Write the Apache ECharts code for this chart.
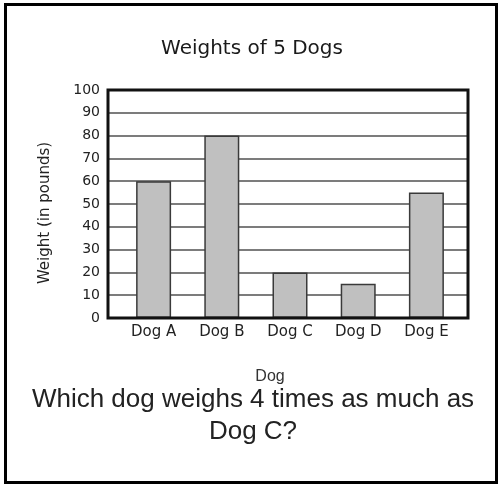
<!DOCTYPE html>
<html>
<head>
<meta charset="utf-8">
<script src="https://cdn.jsdelivr.net/npm/echarts@6/dist/echarts.min.js"></script>
<style>
  html, body { margin: 0; padding: 0; background: #fff; }
  #chart { width: 500px; height: 485px; }
</style>
</head>
<body>
<div id="chart"></div>
<script>
var categories = ['Dog A', 'Dog B', 'Dog C', 'Dog D', 'Dog E'];
var weights = [60, 80, 20, 15, 55];
var yMin = 0, yMax = 100, yStep = 10;
var titleText = 'Weights of 5 Dogs';
var yName = 'Weight (in pounds)';
var xName = 'Dog';
var questionLines = ['Which dog weighs 4 times as much as', 'Dog C?'];

var chart = echarts.init(document.getElementById('chart'), null, { renderer: 'canvas' });
var verd = 'DejaVu Sans';
var arial = 'Liberation Sans';

chart.setOption({
  backgroundColor: '#ffffff',
  animation: false,
  grid: [
    { left: 108, right: 32, top: 90, bottom: 167, show: true, backgroundColor: 'transparent',
      borderColor: '#111', borderWidth: 3, z: 5 },
    { left: 119.5, right: 39.5, top: 90, bottom: 167 }
  ],
  xAxis: [
    { gridIndex: 0, type: 'category', data: categories, show: false },
    { gridIndex: 1, type: 'category', data: categories,
      axisLine: { show: false }, axisTick: { show: false },
      axisLabel: { margin: 7, fontFamily: verd, fontSize: 15, color: '#222' } }
  ],
  yAxis: [
    { gridIndex: 0, type: 'value', min: yMin, max: yMax, interval: yStep,
      axisLine: { show: false }, axisTick: { show: false },
      axisLabel: { margin: 8, fontFamily: verd, fontSize: 14, color: '#222' },
      splitLine: { show: true, lineStyle: { color: '#505050', width: 1.5 } } },
    { gridIndex: 1, type: 'value', min: yMin, max: yMax, interval: yStep, show: false,
      splitLine: { show: false } }
  ],
  series: [{
    type: 'bar', xAxisIndex: 1, yAxisIndex: 1, data: weights, barWidth: 35,
    itemStyle: { color: '#c0c0c0', borderColor: '#3a3a3a', borderWidth: 1.5 },
    z: 2
  }],
  graphic: [
    { type: 'rect', z: 100, silent: true,
      shape: { x: 5.5, y: 4.5, width: 491, height: 478 },
      style: { fill: 'none', stroke: '#000', lineWidth: 3 } },
    { type: 'text', z: 100, x: 252, y: 49,
      style: { text: titleText, font: '20px "DejaVu Sans"', fill: '#1a1a1a', textAlign: 'center', textVerticalAlign: 'middle' } },
    { type: 'text', z: 100, x: 45, y: 213, rotation: Math.PI / 2,
      style: { text: yName, font: '15px "DejaVu Sans"', fill: '#222', textAlign: 'center', textVerticalAlign: 'middle' } },
    { type: 'text', z: 100, x: 270, y: 377,
      style: { text: xName, font: '16px "Liberation Sans"', fill: '#333', textAlign: 'center', textVerticalAlign: 'middle' } },
    { type: 'text', z: 100, x: 253, y: 400,
      style: { text: questionLines[0], font: '26px "Liberation Sans"', fill: '#222', textAlign: 'center', textVerticalAlign: 'middle' } },
    { type: 'text', z: 100, x: 253, y: 432,
      style: { text: questionLines[1], font: '26px "Liberation Sans"', fill: '#222', textAlign: 'center', textVerticalAlign: 'middle' } }
  ]
});
</script>
</body>
</html>
